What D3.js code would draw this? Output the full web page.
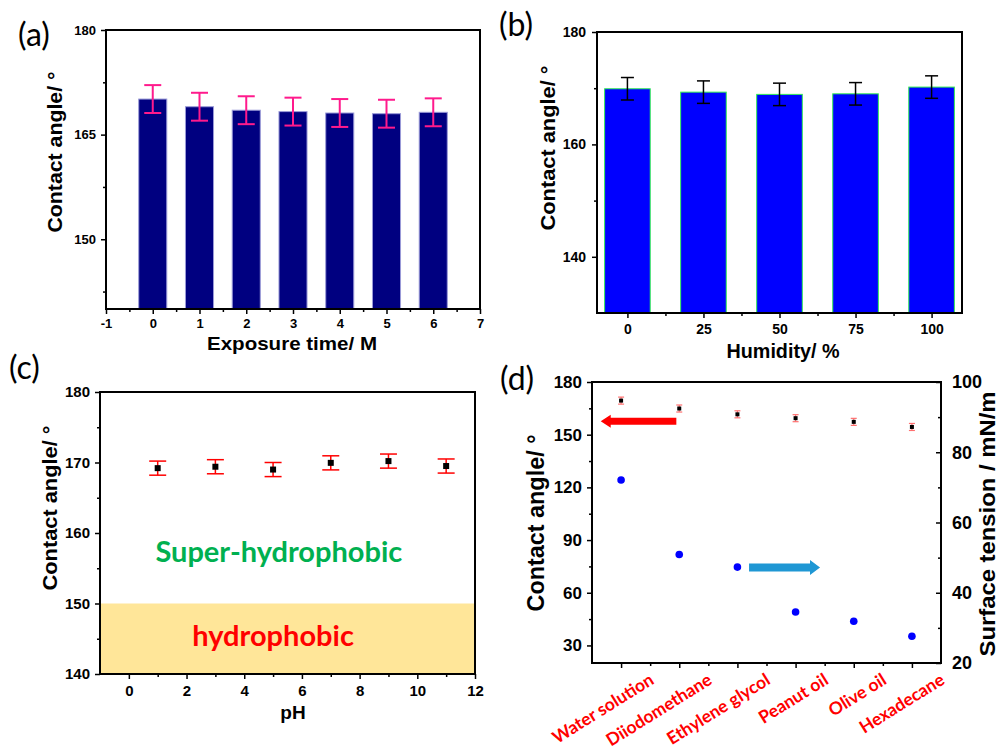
<!DOCTYPE html>
<html>
<head>
<meta charset="utf-8">
<script src="https://cdn.jsdelivr.net/npm/d3@7"></script>
<style>
  body { margin: 0; background: #fff; }
  svg text { font-family: "Liberation Sans", Arial, sans-serif; }
</style>
</head>
<body>
<svg id="fig" width="1002" height="752"></svg>
<script>
// (a) exposure time
var expTime = [0, 1, 2, 3, 4, 5, 6];
var expAngle = [170.1, 169.0, 168.5, 168.3, 168.1, 168.0, 168.2];
var expErr = [2, 2, 2, 2, 2, 2, 2];

// (b) humidity
var humidity = [0, 25, 50, 75, 100];
var humAngle = [169.9, 169.3, 168.9, 169.0, 170.2];
var humErr = [2, 2, 2, 2, 2];

// (c) pH
var phVals = [1, 3, 5, 7, 9, 11];
var phAngle = [169.2, 169.4, 169.0, 169.95, 170.2, 169.5];
var phErr = [1, 1, 1, 1, 1, 1];

// (d) liquids
var liquids = ["Water solution", "Diiodomethane", "Ethylene glycol", "Peanut oil", "Olive oil", "Hexadecane"];
var liqAngle = [169.4, 164.9, 161.6, 159.4, 157.3, 154.4];
var liqErr = [2, 2, 2, 2, 2, 2];
var surfTension = [72.1, 50.9, 47.3, 34.5, 31.9, 27.6];

var svg = d3.select("#fig");
var plain = function(d) { return String(d); };

// shared helpers
function frame(g, w, h) {
  g.append("rect")
    .attr("width", w).attr("height", h)
    .attr("fill", "none").attr("stroke", "#000").attr("stroke-width", 2);
}

function axis(g, ax, tx, ty, fs) {
  var a = g.append("g").attr("transform", "translate(" + tx + "," + ty + ")").call(ax);
  a.select(".domain").remove();
  a.selectAll("line").attr("stroke", "#000").attr("stroke-width", 1.5);
  a.selectAll("text").attr("fill", "#000").style("font-size", fs + "px").style("font-weight", "bold")
    .style("font-family", '"Liberation Sans", Arial, sans-serif');
  return a;
}

function yLabel(x, y, txt, fs, len) {
  svg.append("text")
    .attr("transform", "translate(" + x + "," + y + ") rotate(-90)")
    .attr("text-anchor", "middle").attr("dy", "0.35em")
    .attr("textLength", len).attr("lengthAdjust", "spacingAndGlyphs")
    .style("font-size", fs + "px").style("font-weight", "bold")
    .text(txt);
}

function xLabel(x, y, txt, fs, len) {
  var t = svg.append("text")
    .attr("x", x).attr("y", y).attr("text-anchor", "middle")
    .style("font-size", fs + "px").style("font-weight", "bold")
    .text(txt);
  if (len) t.attr("textLength", len).attr("lengthAdjust", "spacingAndGlyphs");
}

function panelTag(x, y, txt) {
  svg.append("text").attr("x", x).attr("y", y)
    .style("font-family", "Lato, sans-serif").style("font-size", "32px")
    .text(txt);
}

function errBars(g, xs, vs, es, x, y, cap, color, sw) {
  var eb = g.selectAll(null).data(xs).enter().append("g");
  eb.append("line")
    .attr("x1", function(d) { return x(d); }).attr("x2", function(d) { return x(d); })
    .attr("y1", function(d, i) { return y(vs[i] - es[i]); })
    .attr("y2", function(d, i) { return y(vs[i] + es[i]); })
    .attr("stroke", color).attr("stroke-width", sw);
  [-1, 1].forEach(function(s) {
    eb.append("line")
      .attr("x1", function(d) { return x(d) - cap / 2; }).attr("x2", function(d) { return x(d) + cap / 2; })
      .attr("y1", function(d, i) { return y(vs[i] + s * es[i]); })
      .attr("y2", function(d, i) { return y(vs[i] + s * es[i]); })
      .attr("stroke", color).attr("stroke-width", sw);
  });
}

function chartA() {
  var w = 374, h = 279;
  var g = svg.append("g").attr("transform", "translate(106,30)");
  var x = d3.scaleLinear().domain([-1, 7]).range([0, w]);
  var y = d3.scaleLinear().domain([140, 180]).range([h, 0]);
  var bw = x(0.6) - x(0);

  g.selectAll(".bar").data(expTime).enter().append("rect")
    .attr("x", function(d) { return x(d) - bw / 2; })
    .attr("y", function(d, i) { return y(expAngle[i]); })
    .attr("width", bw)
    .attr("height", function(d, i) { return h - y(expAngle[i]); })
    .attr("fill", "#000080").attr("stroke", "#9a9ad8").attr("stroke-width", 1);
  errBars(g, expTime, expAngle, expErr, x, y, 17, "#ff1a8c", 2);

  axis(g, d3.axisBottom(x).tickValues(d3.range(-1, 8)).tickSize(5).tickPadding(5).tickFormat(plain), 0, h, 13);
  axis(g, d3.axisBottom(x).tickValues(d3.range(-0.5, 7, 1)).tickSize(3).tickFormat(""), 0, h, 13);
  axis(g, d3.axisLeft(y).tickValues([150, 165, 180]).tickSize(5).tickPadding(5), 0, 0, 13);
  axis(g, d3.axisLeft(y).tickValues([142.5, 157.5, 172.5]).tickSize(3).tickFormat(""), 0, 0, 13);
  frame(g, w, h);

  yLabel(55, 152, "Contact angle/ \u00b0", 21, 161);
  xLabel(292, 350, "Exposure time/ M", 19, 170);
  panelTag(18, 46, "(a)");
}

function chartB() {
  var w = 365, h = 281;
  var g = svg.append("g").attr("transform", "translate(597,32)");
  var x = d3.scaleLinear().domain([-10, 110]).range([0, w]);
  var y = d3.scaleLinear().domain([130, 180]).range([h, 0]);
  var bw = x(15) - x(0);

  g.selectAll(".bar").data(humidity).enter().append("rect")
    .attr("x", function(d) { return x(d) - bw / 2; })
    .attr("y", function(d, i) { return y(humAngle[i]); })
    .attr("width", bw)
    .attr("height", function(d, i) { return h - y(humAngle[i]); })
    .attr("fill", "#0000ff").attr("stroke", "#33ee55").attr("stroke-width", 1);
  errBars(g, humidity, humAngle, humErr, x, y, 13, "#000", 1.5);

  axis(g, d3.axisBottom(x).tickValues(humidity).tickSize(5).tickPadding(6), 0, h, 14);
  axis(g, d3.axisBottom(x).tickValues([12.5, 37.5, 62.5, 87.5]).tickSize(3).tickFormat(""), 0, h, 14);
  axis(g, d3.axisLeft(y).tickValues([140, 160, 180]).tickSize(5).tickPadding(6), 0, 0, 14);
  axis(g, d3.axisLeft(y).tickValues([150, 170]).tickSize(3).tickFormat(""), 0, 0, 14);
  frame(g, w, h);

  yLabel(548, 148, "Contact angle/ \u00b0", 21, 165);
  xLabel(783, 358, "Humidity/ %", 20, 113);
  panelTag(499, 36, "(b)");
}

function chartC() {
  var w = 375, h = 282;
  var g = svg.append("g").attr("transform", "translate(100,392)");
  var x = d3.scaleLinear().domain([-1, 12]).range([0, w]);
  var y = d3.scaleLinear().domain([140, 180]).range([h, 0]);

  g.append("rect")
    .attr("x", 0).attr("y", y(150))
    .attr("width", w).attr("height", h - y(150))
    .attr("fill", "#ffe699");

  g.append("text")
    .attr("x", x(5.2)).attr("y", y(155.9)).attr("text-anchor", "middle")
    .style("font-family", "Lato, sans-serif").style("font-weight", "bold").style("font-size", "29px")
    .attr("fill", "#00b050").text("Super-hydrophobic");
  g.append("text")
    .attr("x", x(5.0)).attr("y", y(144)).attr("text-anchor", "middle")
    .style("font-family", "Lato, sans-serif").style("font-weight", "bold").style("font-size", "29px")
    .attr("fill", "#ff0000").text("hydrophobic");

  errBars(g, phVals, phAngle, phErr, x, y, 17, "#ff0000", 1.5);
  g.selectAll(".pt").data(phVals).enter().append("rect")
    .attr("x", function(d) { return x(d) - 3; })
    .attr("y", function(d, i) { return y(phAngle[i]) - 3; })
    .attr("width", 6).attr("height", 6).attr("fill", "#000");

  axis(g, d3.axisBottom(x).tickValues(d3.range(0, 13, 2)).tickSize(5).tickPadding(6), 0, h, 15);
  axis(g, d3.axisBottom(x).tickValues(d3.range(1, 12, 2)).tickSize(3).tickFormat(""), 0, h, 15);
  axis(g, d3.axisLeft(y).tickValues(d3.range(140, 181, 10)).tickSize(5).tickPadding(5), 0, 0, 15);
  axis(g, d3.axisLeft(y).tickValues(d3.range(145, 180, 10)).tickSize(3).tickFormat(""), 0, 0, 15);
  frame(g, w, h);

  yLabel(50, 508, "Contact angle/ \u00b0", 21, 165);
  xLabel(293, 719, "pH", 19);
  panelTag(9, 379, "(c)");
}

function arrow(g, x1, x2, yc, th, hh, hl, color) {
  var dir = x2 > x1 ? 1 : -1;
  var xb = x2 - dir * hl;
  var pts = [[x1, yc - th / 2], [xb, yc - th / 2], [xb, yc - hh / 2], [x2, yc],
             [xb, yc + hh / 2], [xb, yc + th / 2], [x1, yc + th / 2]];
  g.append("path").attr("d", d3.line()(pts) + "Z").attr("fill", color);
}

function chartD() {
  var w = 349, h = 281;
  var g = svg.append("g").attr("transform", "translate(592,382)");
  var x = d3.scaleLinear().domain([-0.5, 5.5]).range([0, w]);
  var yL = d3.scaleLinear().domain([20, 180]).range([h, 0]);
  var yR = d3.scaleLinear().domain([20, 100]).range([h, 0]);
  var idx = d3.range(liquids.length);

  errBars(g, idx, liqAngle, liqErr, x, yL, 6, "#ff7070", 1.2);
  g.selectAll(".sq").data(idx).enter().append("rect")
    .attr("x", function(d) { return x(d) - 2; })
    .attr("y", function(d) { return yL(liqAngle[d]) - 2; })
    .attr("width", 4).attr("height", 4).attr("fill", "#000");

  g.selectAll(".dot").data(idx).enter().append("circle")
    .attr("cx", function(d) { return x(d); })
    .attr("cy", function(d) { return yR(surfTension[d]); })
    .attr("r", 3.8).attr("fill", "#0000ff");

  arrow(g, x(0.95), x(-0.35), yL(157.7), 7, 13, 10, "#ff0000");
  arrow(g, x(2.2), x(3.42), yR(47.2), 8, 15, 10, "#1f97d4");

  axis(g, d3.axisBottom(x).tickValues(idx).tickSize(5).tickFormat(""), 0, h, 17);
  axis(g, d3.axisBottom(x).tickValues(d3.range(0.5, 5, 1)).tickSize(3).tickFormat(""), 0, h, 17);
  axis(g, d3.axisLeft(yL).tickValues(d3.range(30, 181, 30)).tickSize(5).tickPadding(5), 0, 0, 17);
  axis(g, d3.axisLeft(yL).tickValues(d3.range(45, 180, 30)).tickSize(3).tickFormat(""), 0, 0, 17);
  axis(g, d3.axisRight(yR).tickValues(d3.range(20, 101, 20)).tickSize(-5).tickPadding(11), w, 0, 18);
  axis(g, d3.axisRight(yR).tickValues([30, 50, 70, 90]).tickSize(-3).tickFormat(""), w, 0, 18);
  frame(g, w, h);

  g.selectAll(".cat").data(idx).enter().append("text")
    .attr("transform", function(d) { return "translate(" + (x(d) + 34) + "," + (h + 20) + ") rotate(-32)"; })
    .attr("text-anchor", "end")
    .style("font-family", "Lato, sans-serif").style("font-weight", "bold").style("font-size", "17.5px")
    .attr("fill", "#ff0000")
    .text(function(d) { return liquids[d]; });

  yLabel(536, 523, "Contact angle/ \u00b0", 23.5, 177);
  svg.append("text")
    .attr("transform", "translate(987,524) rotate(-90)")
    .attr("text-anchor", "middle").attr("dy", "0.35em")
    .attr("textLength", 265).attr("lengthAdjust", "spacingAndGlyphs")
    .style("font-size", "22px").style("font-weight", "bold")
    .text("Surface tension / mN/m");
  panelTag(500, 390, "(d)");
}

chartA();
chartB();
chartC();
chartD();
</script>
</body>
</html>
